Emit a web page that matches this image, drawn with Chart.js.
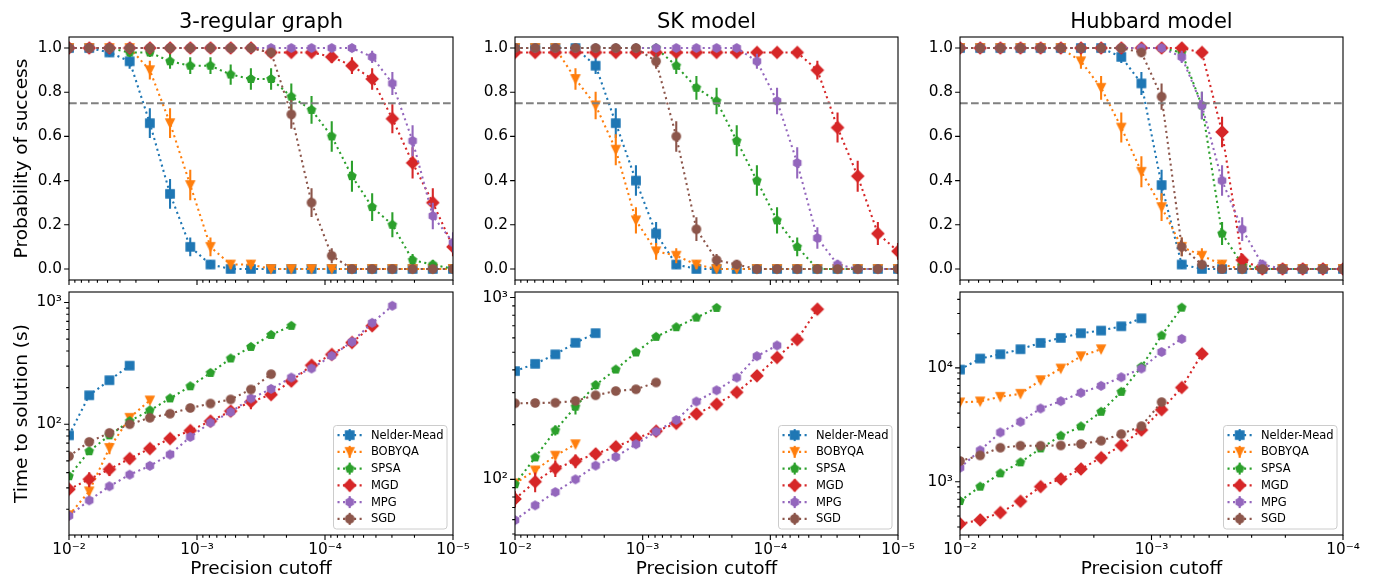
<!DOCTYPE html>
<html>
<head>
<meta charset="utf-8">
<title>Optimizer benchmark</title>
<script src="https://cdn.jsdelivr.net/npm/chart.js@4.4.1/dist/chart.umd.min.js"></script>
<style>
  html, body { margin: 0; padding: 0; background: #fff; }
  #fig { position: relative; width: 1375px; height: 580px; overflow: hidden; background: #fff; }
  #fig canvas { position: absolute; }
</style>
</head>
<body>
<div id="fig"></div>
<script>
// ---------------------------------------------------------------------------
// Data
// ---------------------------------------------------------------------------
const optimizers = ['Nelder-Mead', 'BOBYQA', 'SPSA', 'MGD', 'MPG', 'SGD'];
const problems = ['3-regular graph', 'SK model', 'Hubbard model'];

// precision cutoffs (x values)
const cutoffsReg3 = [1.000e-2, 6.952e-3, 4.833e-3, 3.360e-3, 2.336e-3, 1.624e-3, 1.129e-3, 7.848e-4, 5.456e-4, 3.793e-4,
                     2.637e-4, 1.833e-4, 1.274e-4, 8.859e-5, 6.158e-5, 4.281e-5, 2.976e-5, 2.069e-5, 1.438e-5, 1.000e-5];
const cutoffsSK = [1.000e-2, 6.952e-3, 4.833e-3, 3.360e-3, 2.336e-3, 1.624e-3, 1.129e-3, 7.848e-4, 5.456e-4, 3.793e-4,
                   2.637e-4, 1.833e-4, 1.274e-4, 8.859e-5, 6.158e-5, 4.281e-5, 2.976e-5, 2.069e-5, 1.438e-5, 1.000e-5];
const cutoffsHubbard = [1.000e-2, 7.848e-3, 6.158e-3, 4.833e-3, 3.793e-3, 2.976e-3, 2.336e-3, 1.833e-3, 1.438e-3, 1.129e-3,
                        8.859e-4, 6.952e-4, 5.456e-4, 4.281e-4, 3.360e-4, 2.637e-4, 2.069e-4, 1.624e-4, 1.274e-4, 1.000e-4];

// x axis limits [smallest, largest]
const xlimReg3 = [1e-5, 1e-2];
const xlimSK = [1e-5, 1e-2];
const xlimHubbard = [1e-4, 1e-2];

// time-to-solution axis limits
const ttsLimReg3 = [12.3, 1220];
const ttsLimSK = [49.4, 1073];
const ttsLimHubbard = [340, 46400];

const successThreshold = 0.75;
const probTicks = [0, 0.2, 0.4, 0.6, 0.8, 1.0];

// ---- probability of success: 3-regular graph ----
const reg3ProbNM     = [1, 1, 0.98, 0.94, 0.66, 0.34, 0.10, 0.02, 0, 0, 0, 0, 0, 0, 0, 0, 0, 0, 0, 0];
const reg3ProbBOBYQA = [1, 1, 1, 1, 0.90, 0.66, 0.38, 0.10, 0.02, 0.02, 0, 0, 0, 0, 0, 0, 0, 0, 0, 0];
const reg3ProbSPSA   = [1, 1, 1, 0.98, 0.98, 0.94, 0.92, 0.92, 0.88, 0.86, 0.86, 0.78, 0.72, 0.60, 0.42, 0.28, 0.20, 0.04, 0.02, 0];
const reg3ProbMGD    = [1, 1, 1, 1, 1, 1, 1, 1, 1, 1, 0.98, 0.98, 0.98, 0.96, 0.92, 0.86, 0.68, 0.48, 0.30, 0.10];
const reg3ProbMPG    = [1, 1, 1, 1, 1, 1, 1, 1, 1, 1, 1, 1, 1, 1, 1, 0.96, 0.84, 0.58, 0.24, 0.12];
const reg3ProbSGD    = [1, 1, 1, 1, 1, 1, 1, 1, 1, 1, 0.98, 0.70, 0.30, 0.06, 0, 0, 0, 0, 0, 0];
const reg3ProbErrNM     = [0, 0, 0.02, 0.034, 0.067, 0.067, 0.042, 0.02, 0, 0, 0, 0, 0, 0, 0, 0, 0, 0, 0, 0];
const reg3ProbErrBOBYQA = [0, 0, 0, 0, 0.042, 0.067, 0.069, 0.042, 0.02, 0.02, 0, 0, 0, 0, 0, 0, 0, 0, 0, 0];
const reg3ProbErrSPSA   = [0, 0, 0, 0.02, 0.02, 0.034, 0.038, 0.038, 0.046, 0.049, 0.049, 0.059, 0.063, 0.069, 0.07, 0.063, 0.057, 0.028, 0.02, 0];
const reg3ProbErrMGD    = [0, 0, 0, 0, 0, 0, 0, 0, 0, 0, 0.02, 0.02, 0.02, 0.028, 0.038, 0.049, 0.066, 0.071, 0.065, 0.042];
const reg3ProbErrMPG    = [0, 0, 0, 0, 0, 0, 0, 0, 0, 0, 0, 0, 0, 0, 0, 0.028, 0.052, 0.07, 0.06, 0.046];
const reg3ProbErrSGD    = [0, 0, 0, 0, 0, 0, 0, 0, 0, 0, 0.02, 0.065, 0.065, 0.034, 0, 0, 0, 0, 0, 0];

// ---- probability of success: SK model ----
const skProbNM     = [1, 1, 1, 1, 0.92, 0.66, 0.40, 0.16, 0.02, 0, 0, 0, 0, 0, 0, 0, 0, 0, 0, 0];
const skProbBOBYQA = [1, 1, 1, 0.86, 0.74, 0.54, 0.22, 0.08, 0.06, 0.02, 0, 0, 0, 0, 0, 0, 0, 0, 0, 0];
const skProbSPSA   = [1, 1, 1, 1, 1, 1, 1, 1, 0.92, 0.82, 0.76, 0.58, 0.40, 0.22, 0.10, 0, 0, 0, 0, 0];
const skProbMGD    = [0.98, 0.98, 0.98, 0.98, 0.98, 0.98, 0.98, 0.98, 0.98, 0.98, 0.98, 0.98, 0.98, 0.98, 0.98, 0.90, 0.64, 0.42, 0.16, 0.08];
const skProbMPG    = [1, 1, 1, 1, 1, 1, 1, 1, 1, 1, 1, 1, 0.94, 0.76, 0.48, 0.14, 0.02, 0, 0, 0];
const skProbSGD    = [1, 1, 1, 1, 1, 1, 1, 0.94, 0.60, 0.18, 0.04, 0.02, 0, 0, 0, 0, 0, 0, 0, 0];
const skProbErrNM     = [0, 0, 0, 0, 0.038, 0.067, 0.069, 0.052, 0.02, 0, 0, 0, 0, 0, 0, 0, 0, 0, 0, 0];
const skProbErrBOBYQA = [0, 0, 0, 0.049, 0.062, 0.07, 0.059, 0.038, 0.034, 0.02, 0, 0, 0, 0, 0, 0, 0, 0, 0, 0];
const skProbErrSPSA   = [0, 0, 0, 0, 0, 0, 0, 0, 0.038, 0.054, 0.06, 0.07, 0.069, 0.059, 0.042, 0, 0, 0, 0, 0];
const skProbErrMGD    = [0.02, 0.02, 0.02, 0.02, 0.02, 0.02, 0.02, 0.02, 0.02, 0.02, 0.02, 0.02, 0.02, 0.02, 0.02, 0.042, 0.068, 0.07, 0.052, 0.038];
const skProbErrMPG    = [0, 0, 0, 0, 0, 0, 0, 0, 0, 0, 0, 0, 0.034, 0.06, 0.071, 0.049, 0.02, 0, 0, 0];
const skProbErrSGD    = [0, 0, 0, 0, 0, 0, 0, 0.034, 0.069, 0.054, 0.028, 0.02, 0, 0, 0, 0, 0, 0, 0, 0];

// ---- probability of success: Hubbard model ----
const hubProbNM     = [1, 1, 1, 1, 1, 1, 1, 1, 0.96, 0.84, 0.38, 0.02, 0, 0, 0, 0, 0, 0, 0, 0];
const hubProbBOBYQA = [1, 1, 1, 1, 1, 1, 0.94, 0.82, 0.64, 0.44, 0.28, 0.10, 0.06, 0.02, 0, 0, 0, 0, 0, 0];
const hubProbSPSA   = [1, 1, 1, 1, 1, 1, 1, 1, 1, 1, 1, 0.98, 0.74, 0.16, 0.02, 0, 0, 0, 0, 0];
const hubProbMGD    = [1, 1, 1, 1, 1, 1, 1, 1, 1, 1, 1, 1, 0.98, 0.62, 0.04, 0, 0, 0, 0, 0];
const hubProbMPG    = [1, 1, 1, 1, 1, 1, 1, 1, 1, 1, 1, 0.96, 0.74, 0.40, 0.18, 0.02, 0, 0, 0, 0];
const hubProbSGD    = [1, 1, 1, 1, 1, 1, 1, 1, 1, 0.98, 0.78, 0.10, 0.02, 0, 0, 0, 0, 0, 0, 0];
const hubProbErrNM     = [0, 0, 0, 0, 0, 0, 0, 0, 0.028, 0.052, 0.069, 0.02, 0, 0, 0, 0, 0, 0, 0, 0];
const hubProbErrBOBYQA = [0, 0, 0, 0, 0, 0, 0.034, 0.054, 0.068, 0.07, 0.063, 0.042, 0.034, 0.02, 0, 0, 0, 0, 0, 0];
const hubProbErrSPSA   = [0, 0, 0, 0, 0, 0, 0, 0, 0, 0, 0, 0.02, 0.062, 0.052, 0.02, 0, 0, 0, 0, 0];
const hubProbErrMGD    = [0, 0, 0, 0, 0, 0, 0, 0, 0, 0, 0, 0, 0.02, 0.069, 0.028, 0, 0, 0, 0, 0];
const hubProbErrMPG    = [0, 0, 0, 0, 0, 0, 0, 0, 0, 0, 0, 0.028, 0.062, 0.069, 0.054, 0.02, 0, 0, 0, 0];
const hubProbErrSGD    = [0, 0, 0, 0, 0, 0, 0, 0, 0, 0.02, 0.059, 0.042, 0.02, 0, 0, 0, 0, 0, 0, 0];

// ---- time to solution (s): 3-regular graph ----
const reg3TtsNM     = [81, 173, 230, 303];
const reg3TtsBOBYQA = [17.9, 28.1, 63.8, 113, 157];
const reg3TtsSPSA   = [37.4, 60, 81, 106, 130, 163, 205, 264, 347, 432, 542, 643];
const reg3TtsMGD    = [29.2, 35.3, 42.6, 52.2, 63.1, 76.2, 88.7, 106, 128, 153, 175, 226, 305, 374, 469, 643];
const reg3TtsMPG    = [17.7, 23.7, 30.9, 38.5, 45.5, 56.4, 78.7, 103, 126, 163, 195, 242, 287, 365, 475, 681, 940];
const reg3TtsSGD    = [54.6, 71.6, 84.9, 100, 113, 122, 136, 148, 160, 193, 258];
const reg3TtsErrNM     = [2, 5, 7, 9];
const reg3TtsErrBOBYQA = [1.5, 3.5, 7, 8, 6];
const reg3TtsErrSPSA   = [2, 3, 3, 4, 4, 5, 6, 8, 10, 12, 14, 20];
const reg3TtsErrMGD    = [3, 5, 5, 5, 5, 5, 6, 7, 9, 20, 14, 20, 16, 18, 22, 30];
const reg3TtsErrMPG    = [1, 1.2, 1.5, 2, 2, 3, 4, 5, 6, 8, 10, 12, 14, 18, 24, 35, 50];
const reg3TtsErrSGD    = [3, 4, 4, 5, 5, 5, 6, 7, 8, 10, 14];

// ---- time to solution (s): SK model ----
const skTtsNM     = [394, 432, 487, 564, 637];
const skTtsBOBYQA = [95, 112, 135, 156];
const skTtsSPSA   = [94, 132, 186, 251, 330, 402, 499, 608, 687, 776, 877];
const skTtsMGD    = [78, 97, 115, 126, 138, 151, 168, 184, 203, 229, 259, 301, 371, 468, 587, 863];
const skTtsMPG    = [59.6, 71.9, 85.1, 100, 119, 133, 156, 183, 212, 268, 309, 363, 476, 545];
const skTtsSGD    = [262, 263, 264, 270, 290, 306, 313, 341];
const skTtsErrNM     = [10, 10, 12, 14, 15];
const skTtsErrBOBYQA = [4, 6, 6, 6];
const skTtsErrSPSA   = [3, 6, 12, 24, 18, 14, 12, 14, 16, 18, 22];
const skTtsErrMGD    = [8, 12, 12, 11, 9, 7, 6, 6, 6, 6, 7, 8, 9, 12, 14, 20];
const skTtsErrMPG    = [1.5, 2, 2, 2.5, 3, 3, 4, 5, 6, 7, 8, 10, 12, 14];
const skTtsErrSGD    = [6, 6, 6, 6, 7, 7, 8, 9];

// ---- time to solution (s): Hubbard model ----
const hubTtsNM     = [9660, 12070, 13180, 14590, 16570, 18330, 20150, 21250, 23190, 27270];
const hubTtsBOBYQA = [4970, 5070, 5570, 5920, 7800, 9870, 12650, 14590];
const hubTtsSPSA   = [676, 904, 1183, 1479, 1960, 2533, 3058, 4110, 6155, 10210, 19230, 33820];
const hubTtsMGD    = [426, 461, 535, 672, 904, 1055, 1291, 1624, 2085, 2841, 4285, 6720, 13280];
const hubTtsMPG    = [1327, 1885, 2710, 3360, 4395, 5100, 6040, 6950, 8280, 9870, 13800, 17960];
const hubTtsSGD    = [1518, 1702, 1987, 2069, 2069, 2080, 2139, 2290, 2620, 3080, 5000];
const hubTtsErrNM     = [200, 250, 260, 300, 330, 360, 400, 420, 460, 550];
const hubTtsErrBOBYQA = [100, 100, 110, 120, 160, 200, 250, 300];
const hubTtsErrSPSA   = [14, 18, 24, 30, 40, 50, 60, 80, 120, 200, 380, 680];
const hubTtsErrMGD    = [8, 9, 11, 13, 18, 21, 26, 32, 42, 57, 86, 134, 266];
const hubTtsErrMPG    = [27, 38, 54, 67, 88, 102, 120, 140, 166, 200, 280, 360];
const hubTtsErrSGD    = [30, 34, 40, 41, 41, 42, 43, 46, 52, 62, 100];

// ---------------------------------------------------------------------------
// Styling
// ---------------------------------------------------------------------------
const seriesColors = ['#1f77b4', '#ff7f0e', '#2ca02c', '#d62728', '#9467bd', '#8c564b'];
const seriesMarkers = ['s', 'v', 'p', 'D', 'h', 'o'];
const FONT = "'DejaVu Sans', 'Liberation Sans', sans-serif";
const LINE_W = 2.08;           // 1.5 pt
const DOTTED = [2.08, 3.44];   // ':' pattern
const MARKER_SIZE = 8.33;      // 6 pt
const MARKER_EDGE = 1.39;
const SPINE_W = 1.1;

Chart.defaults.font.family = FONT;
Chart.defaults.color = '#000';

function makeMarker(shape, color) {
  const S = 18;
  const c = document.createElement('canvas');
  c.width = S; c.height = S;
  const g = c.getContext('2d');
  g.translate(S / 2, S / 2);
  const h = MARKER_SIZE / 2;
  g.beginPath();
  if (shape === 's') {
    g.rect(-h, -h, 2 * h, 2 * h);
  } else if (shape === 'v') {
    g.moveTo(0, h); g.lineTo(-h, -h); g.lineTo(h, -h); g.closePath();
  } else if (shape === 'D') {
    const d = h * Math.SQRT2;
    g.moveTo(0, -d); g.lineTo(d, 0); g.lineTo(0, d); g.lineTo(-d, 0); g.closePath();
  } else if (shape === 'p' || shape === 'h') {
    const n = shape === 'p' ? 5 : 6;
    for (let k = 0; k < n; k++) {
      const t = -Math.PI / 2 + 2 * Math.PI * k / n;
      if (k === 0) g.moveTo(h * Math.cos(t), h * Math.sin(t));
      else g.lineTo(h * Math.cos(t), h * Math.sin(t));
    }
    g.closePath();
  } else {
    g.arc(0, 0, h, 0, 2 * Math.PI);
  }
  g.fillStyle = color; g.fill();
  g.lineWidth = MARKER_EDGE; g.strokeStyle = color; g.stroke();
  return c;
}
const markerImages = seriesMarkers.map((m, i) => makeMarker(m, seriesColors[i]));

const SUP = { '-': '\u207B', '0': '\u2070', '1': '\u00B9', '2': '\u00B2', '3': '\u00B3',
              '4': '\u2074', '5': '\u2075', '6': '\u2076', '7': '\u2077', '8': '\u2078', '9': '\u2079' };
function powerLabel(v) {
  const e = Math.round(Math.log10(v));
  return '10' + String(e).split('').map(ch => SUP[ch]).join('');
}
function logTickValues(min, max) {
  const out = [];
  for (let e = Math.floor(Math.log10(min)); e <= Math.ceil(Math.log10(max)); e++) {
    for (let m = 1; m <= 9; m++) {
      const v = m * Math.pow(10, e);
      if (v >= min * (1 - 1e-9) && v <= max * (1 + 1e-9)) out.push({ value: v, major: m === 1 });
    }
  }
  return out;
}
function fixSize(prop, size) {
  return function (scale) {
    scale[prop] = size;
    scale.paddingTop = 0; scale.paddingBottom = 0;
    scale.paddingLeft = 0; scale.paddingRight = 0;
  };
}

// ---------------------------------------------------------------------------
// Panel tables built from the arrays above
// ---------------------------------------------------------------------------
const panelData = [
  { title: problems[0], cutoffs: cutoffsReg3, xlim: xlimReg3, ttsLim: ttsLimReg3,
    prob: [reg3ProbNM, reg3ProbBOBYQA, reg3ProbSPSA, reg3ProbMGD, reg3ProbMPG, reg3ProbSGD],
    probErr: [reg3ProbErrNM, reg3ProbErrBOBYQA, reg3ProbErrSPSA, reg3ProbErrMGD, reg3ProbErrMPG, reg3ProbErrSGD],
    tts: [reg3TtsNM, reg3TtsBOBYQA, reg3TtsSPSA, reg3TtsMGD, reg3TtsMPG, reg3TtsSGD],
    ttsErr: [reg3TtsErrNM, reg3TtsErrBOBYQA, reg3TtsErrSPSA, reg3TtsErrMGD, reg3TtsErrMPG, reg3TtsErrSGD] },
  { title: problems[1], cutoffs: cutoffsSK, xlim: xlimSK, ttsLim: ttsLimSK,
    prob: [skProbNM, skProbBOBYQA, skProbSPSA, skProbMGD, skProbMPG, skProbSGD],
    probErr: [skProbErrNM, skProbErrBOBYQA, skProbErrSPSA, skProbErrMGD, skProbErrMPG, skProbErrSGD],
    tts: [skTtsNM, skTtsBOBYQA, skTtsSPSA, skTtsMGD, skTtsMPG, skTtsSGD],
    ttsErr: [skTtsErrNM, skTtsErrBOBYQA, skTtsErrSPSA, skTtsErrMGD, skTtsErrMPG, skTtsErrSGD] },
  { title: problems[2], cutoffs: cutoffsHubbard, xlim: xlimHubbard, ttsLim: ttsLimHubbard,
    prob: [hubProbNM, hubProbBOBYQA, hubProbSPSA, hubProbMGD, hubProbMPG, hubProbSGD],
    probErr: [hubProbErrNM, hubProbErrBOBYQA, hubProbErrSPSA, hubProbErrMGD, hubProbErrMPG, hubProbErrSGD],
    tts: [hubTtsNM, hubTtsBOBYQA, hubTtsSPSA, hubTtsMGD, hubTtsMPG, hubTtsSGD],
    ttsErr: [hubTtsErrNM, hubTtsErrBOBYQA, hubTtsErrSPSA, hubTtsErrMGD, hubTtsErrMPG, hubTtsErrSGD] }
];

// ---------------------------------------------------------------------------
// Layout of the 2 x 3 grid (plot-area edges in page pixels)
// ---------------------------------------------------------------------------
const colLeft = [69, 515, 960];
const colRight = [453, 898, 1343];
const rowTop = [37, 292];
const rowBottom = [280, 535];
const rowCanvasTop = [0, 282];
const rowCanvasBottom = [292, 580];

// error bars, frame, tick marks, titles and legend
function makeDecorPlugin(info) {
  return {
    id: 'panelDecor',
    beforeDatasetDraw(chart, args) {
      const ds = chart.data.datasets[args.index];
      if (!ds.errors) return;
      const { ctx, chartArea: a, scales } = chart;
      const xs = scales.x, ys = scales.y;
      ctx.save();
      ctx.beginPath();
      ctx.rect(a.left, a.top, a.right - a.left, a.bottom - a.top);
      ctx.clip();
      ctx.strokeStyle = ds.borderColor;
      ctx.lineWidth = LINE_W;
      ctx.beginPath();
      ds.data.forEach((pt, i) => {
        const e = ds.errors[i];
        if (!e) return;
        const px = xs.getPixelForValue(pt.x);
        const lo = info.logY ? Math.max(pt.y - e, pt.y * 0.05) : pt.y - e;
        ctx.moveTo(px, ys.getPixelForValue(pt.y + e));
        ctx.lineTo(px, ys.getPixelForValue(lo));
      });
      ctx.stroke();
      ctx.restore();
    },
    afterDatasetsDraw(chart) {
      const { ctx, chartArea: a, scales } = chart;
      ctx.save();
      // tick marks (outside the frame)
      ctx.strokeStyle = '#000';
      ctx.lineWidth = SPINE_W;
      ctx.beginPath();
      scales.x.ticks.forEach(t => {
        const px = scales.x.getPixelForValue(t.value);
        const len = t.major ? 4.9 : 2.8;
        ctx.moveTo(px, a.bottom); ctx.lineTo(px, a.bottom + len);
      });
      scales.y.ticks.forEach(t => {
        const py = scales.y.getPixelForValue(t.value);
        const len = t.major ? 4.9 : 2.8;
        ctx.moveTo(a.left, py); ctx.lineTo(a.left - len, py);
      });
      ctx.stroke();
      // frame
      ctx.strokeRect(a.left, a.top, a.right - a.left, a.bottom - a.top);
      ctx.restore();
    },
    afterDraw(chart) {
      const { ctx, chartArea: a } = chart;
      ctx.save();
      if (info.title) {
        ctx.fillStyle = '#000';
        ctx.font = '21px ' + FONT;
        ctx.textAlign = 'center';
        ctx.textBaseline = 'alphabetic';
        ctx.fillText(info.title, (a.left + a.right) / 2, 27.5);
      }
      if (info.legend) {
        const w = 113.5, h = 103.5;
        const bx = a.right - 6 - w, by = a.bottom - 6 - h;
        ctx.beginPath();
        if (ctx.roundRect) ctx.roundRect(bx, by, w, h, 3); else ctx.rect(bx, by, w, h);
        ctx.fillStyle = 'rgba(255,255,255,0.8)';
        ctx.fill();
        ctx.strokeStyle = '#cccccc';
        ctx.lineWidth = 1;
        ctx.stroke();
        ctx.font = '11.5px ' + FONT;
        ctx.textAlign = 'left';
        ctx.textBaseline = 'middle';
        optimizers.forEach((name, i) => {
          const yRow = by + 9.6 + i * 16.75;
          const x0 = bx + 4, x1 = bx + 28.4, xm = (x0 + x1) / 2;
          ctx.strokeStyle = seriesColors[i];
          ctx.lineWidth = LINE_W;
          ctx.setLineDash(DOTTED);
          ctx.beginPath(); ctx.moveTo(x0, yRow); ctx.lineTo(x1, yRow); ctx.stroke();
          ctx.setLineDash([]);
          ctx.beginPath(); ctx.moveTo(xm, yRow - 6); ctx.lineTo(xm, yRow + 6); ctx.stroke();
          const img = markerImages[i];
          ctx.drawImage(img, xm - img.width / 2, yRow - img.height / 2);
          ctx.fillStyle = '#000';
          ctx.fillText(name, bx + 37.4, yRow + 0.5);
        });
      }
      ctx.restore();
    }
  };
}

function buildPanel(col, row) {
  const pd = panelData[col];
  const canvasLeft = col === 0 ? 0 : colLeft[col] - 60;
  const yAxisW = colLeft[col] - canvasLeft;
  const padRight = 32;
  const canvasW = colRight[col] + padRight - canvasLeft;
  const canvasTop = rowCanvasTop[row];
  const canvasH = rowCanvasBottom[row] - canvasTop;
  const padTop = rowTop[row] - canvasTop;
  const xAxisH = rowCanvasBottom[row] - rowBottom[row];

  const canvas = document.createElement('canvas');
  canvas.width = canvasW; canvas.height = canvasH;
  canvas.style.left = canvasLeft + 'px';
  canvas.style.top = canvasTop + 'px';
  canvas.style.width = canvasW + 'px';
  canvas.style.height = canvasH + 'px';
  document.getElementById('fig').appendChild(canvas);

  const datasets = optimizers.map((name, i) => {
    const ys = row === 0 ? pd.prob[i] : pd.tts[i];
    const errs = row === 0 ? pd.probErr[i] : pd.ttsErr[i];
    return {
      label: name,
      data: ys.map((v, k) => ({ x: pd.cutoffs[k], y: v })),
      errors: errs,
      borderColor: seriesColors[i],
      backgroundColor: seriesColors[i],
      borderWidth: LINE_W,
      borderDash: DOTTED,
      pointStyle: markerImages[i],
      pointRadius: 4,
      pointHoverRadius: 4,
      tension: 0,
      fill: false,
      clip: 0,
      order: optimizers.length - i
    };
  });
  if (row === 0) {
    datasets.push({
      label: 'threshold',
      data: [{ x: pd.xlim[1], y: successThreshold }, { x: pd.xlim[0], y: successThreshold }],
      borderColor: '#808080',
      borderWidth: LINE_W,
      borderDash: [7.7, 3.3],
      pointRadius: 0,
      clip: 0,
      order: -1
    });
  }

  const yScale = row === 0 ? {
    type: 'linear', min: -0.05, max: 1.05,
    afterBuildTicks: s => { s.ticks = probTicks.map(v => ({ value: v, major: true })); },
    ticks: { callback: v => Number(v).toFixed(1) }
  } : {
    type: 'logarithmic', min: pd.ttsLim[0], max: pd.ttsLim[1],
    afterBuildTicks: s => { s.ticks = logTickValues(s.min, s.max); },
    ticks: { callback: (v, i, t) => (t[i] && t[i].major ? powerLabel(v) : '') }
  };
  Object.assign(yScale, {
    position: 'left',
    grid: { display: false, drawTicks: false },
    border: { display: false },
    afterFit: fixSize('width', yAxisW),
    title: {
      display: col === 0,
      text: row === 0 ? 'Probability of success' : 'Time to solution (s)',
      font: { size: 18.5, family: FONT },
      padding: { top: 11.4, bottom: 0 }
    }
  });
  Object.assign(yScale.ticks, { autoSkip: false, padding: 7, font: { size: 15.3, family: FONT }, color: '#000' });

  const config = {
    type: 'line',
    data: { datasets },
    options: {
      responsive: false,
      maintainAspectRatio: false,
      animation: false,
      devicePixelRatio: 1,
      events: [],
      layout: { padding: { left: 0, right: padRight, top: padTop, bottom: 0 } },
      plugins: { legend: { display: false }, tooltip: { enabled: false }, title: { display: false } },
      scales: {
        x: {
          type: 'logarithmic', reverse: true, min: pd.xlim[0], max: pd.xlim[1], position: 'bottom',
          grid: { display: false, drawTicks: false },
          border: { display: false },
          afterBuildTicks: s => { s.ticks = logTickValues(s.min, s.max); },
          afterFit: fixSize('height', xAxisH),
          ticks: {
            display: row === 1, autoSkip: false, maxRotation: 0, minRotation: 0, padding: 5.8,
            font: { size: 15.3, family: FONT }, color: '#000',
            callback: (v, i, t) => (t[i] && t[i].major ? powerLabel(v) : '')
          },
          title: {
            display: row === 1, text: 'Precision cutoff',
            font: { size: 18.5, family: FONT }, padding: { top: 0, bottom: 0 }
          }
        },
        y: yScale
      }
    },
    plugins: [makeDecorPlugin({ title: row === 0 ? pd.title : null, legend: row === 1, logY: row === 1 })]
  };
  return new Chart(canvas, config);
}

for (let row = 0; row < 2; row++) {
  for (let col = 0; col < 3; col++) buildPanel(col, row);
}
</script>
</body>
</html>
